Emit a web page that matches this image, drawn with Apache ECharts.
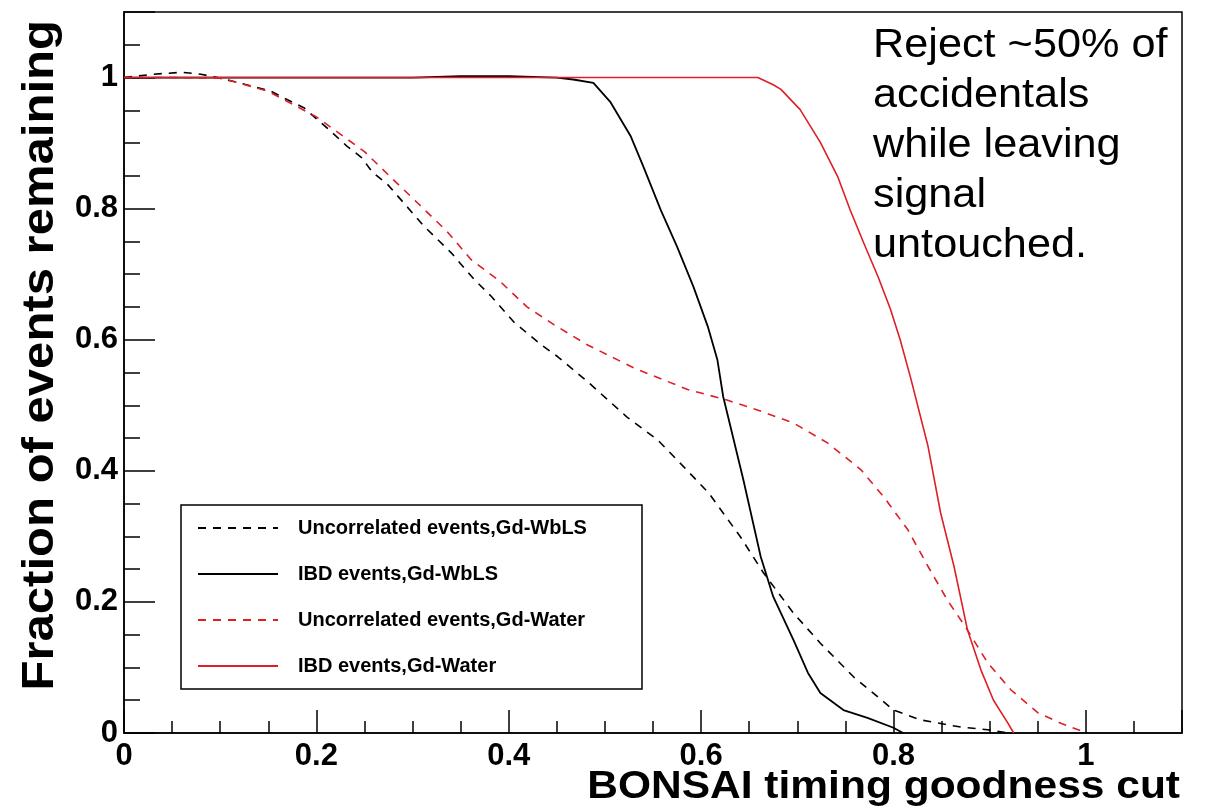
<!DOCTYPE html>
<html>
<head>
<meta charset="utf-8">
<script src="https://cdn.jsdelivr.net/npm/echarts@6/dist/echarts.min.js"></script>
<style>
html,body{margin:0;padding:0;background:#fff;}
#chart{width:1207px;height:809px;}
</style>
</head>
<body>
<div id="chart"></div>
<script>
// ---- data ----
const seriesNames = [
  'Uncorrelated events,Gd-WbLS',
  'IBD events,Gd-WbLS',
  'Uncorrelated events,Gd-Water',
  'IBD events,Gd-Water'
];

const uncorrWbLS_x = [0, 0.03, 0.06, 0.08, 0.097, 0.114, 0.153, 0.17, 0.187, 0.201, 0.215, 0.232, 0.247, 0.258, 0.274, 0.299, 0.312, 0.34, 0.364, 0.382, 0.406, 0.434, 0.451, 0.482, 0.523, 0.555, 0.582, 0.608, 0.641, 0.665, 0.696, 0.724, 0.759, 0.779, 0.8, 0.828, 0.87, 0.898, 0.92];
const uncorrWbLS_y = [1.0, 1.005, 1.008, 1.005, 1.0, 0.994, 0.979, 0.966, 0.954, 0.936, 0.918, 0.895, 0.878, 0.856, 0.837, 0.795, 0.773, 0.733, 0.692, 0.666, 0.626, 0.592, 0.574, 0.536, 0.482, 0.447, 0.406, 0.366, 0.299, 0.244, 0.183, 0.137, 0.085, 0.061, 0.035, 0.02, 0.009, 0.005, 0];

const ibdWbLS_x = [0, 0.1, 0.2, 0.3, 0.35, 0.4, 0.45, 0.467, 0.488, 0.506, 0.527, 0.54, 0.558, 0.575, 0.592, 0.607, 0.617, 0.623, 0.627, 0.644, 0.662, 0.675, 0.696, 0.711, 0.724, 0.748, 0.773, 0.8, 0.81];
const ibdWbLS_y = [1, 1, 1, 1, 1.002, 1.002, 1.0, 0.997, 0.992, 0.962, 0.91, 0.864, 0.798, 0.742, 0.681, 0.62, 0.569, 0.513, 0.489, 0.386, 0.269, 0.208, 0.142, 0.092, 0.061, 0.035, 0.023, 0.008, 0];

const uncorrWater_x = [0, 0.05, 0.1, 0.114, 0.15, 0.2, 0.25, 0.278, 0.305, 0.336, 0.361, 0.391, 0.419, 0.447, 0.482, 0.53, 0.586, 0.627, 0.66, 0.696, 0.731, 0.766, 0.79, 0.815, 0.836, 0.856, 0.877, 0.898, 0.922, 0.95, 0.974, 0.992, 1.0];
const uncorrWater_y = [1.0, 1.0, 0.999, 0.994, 0.979, 0.94, 0.887, 0.847, 0.809, 0.765, 0.722, 0.689, 0.65, 0.623, 0.592, 0.557, 0.524, 0.508, 0.492, 0.473, 0.443, 0.402, 0.36, 0.31, 0.254, 0.203, 0.157, 0.107, 0.066, 0.031, 0.015, 0.005, 0];

const ibdWater_x = [0, 0.3, 0.5, 0.6, 0.659, 0.675, 0.683, 0.703, 0.724, 0.742, 0.755, 0.769, 0.784, 0.797, 0.807, 0.818, 0.836, 0.849, 0.863, 0.877, 0.891, 0.904, 0.919, 0.925];
const ibdWater_y = [1, 1, 1, 1, 1.0, 0.989, 0.982, 0.951, 0.901, 0.849, 0.798, 0.748, 0.696, 0.646, 0.6, 0.541, 0.437, 0.336, 0.254, 0.157, 0.096, 0.05, 0.015, 0];

const xTitle = 'BONSAI timing goodness cut';
const yTitle = 'Fraction of events remaining';
const noteLines = ['Reject ~50% of', 'accidentals', 'while leaving', 'signal', 'untouched.'];

// ---- build ----
function pairs(xs, ys){ return xs.map((x,i)=>[x, ys[i]]); }
const RED = '#dd1f26';
const BLACK = '#000';
const FONT = '"Liberation Sans", Arial, Helvetica, sans-serif';

const chart = echarts.init(document.getElementById('chart'), null, {renderer:'canvas'});

const majorLabel = {
  show:true, color:'#000', fontFamily:FONT, fontWeight:'bold', fontSize:31,
  formatter: v => (v > 1.05 ? '' : String(+v.toFixed(2)))
};

const option = {
  animation:false,
  backgroundColor:'#fff',
  grid:{left:124, right:25, top:12, bottom:76, show:true, borderColor:'#000', borderWidth:1.5, backgroundColor:'transparent'},
  xAxis:[
    {type:'value', min:0, max:1.1, interval:0.2, position:'bottom',
     axisLine:{show:true, onZero:false, lineStyle:{color:'#000', width:1.5}},
     axisTick:{show:true, inside:true, length:23, lineStyle:{color:'#000', width:1.5}},
     axisLabel:Object.assign({margin:8}, majorLabel),
     splitLine:{show:false}},
    {type:'value', min:0, max:1.1, interval:0.05, position:'bottom',
     axisLine:{show:false},
     axisTick:{show:true, inside:true, length:12, lineStyle:{color:'#000', width:1.5}},
     axisLabel:{show:false}, splitLine:{show:false}}
  ],
  yAxis:[
    {type:'value', min:0, max:1.1, interval:0.2, position:'left',
     axisLine:{show:true, onZero:false, lineStyle:{color:'#000', width:1.5}},
     axisTick:{show:true, inside:true, length:31, lineStyle:{color:'#000', width:1.5}},
     axisLabel:Object.assign({margin:6}, majorLabel),
     splitLine:{show:false}},
    {type:'value', min:0, max:1.1, interval:0.05, position:'left',
     axisLine:{show:false},
     axisTick:{show:true, inside:true, length:16, lineStyle:{color:'#000', width:1.5}},
     axisLabel:{show:false}, splitLine:{show:false}}
  ],
  legend:{
    orient:'vertical', left:197, top:518, padding:0,
    itemWidth:80, itemHeight:20, itemGap:26,
    data:seriesNames,
    itemStyle:{opacity:0},
    textStyle:{color:'#000', fontFamily:FONT, fontWeight:'bold', fontSize:20, padding:[0,0,0,15]},
    z:10
  },
  graphic:[
    {type:'rect', z:5, shape:{x:181, y:505, width:461, height:184},
     style:{fill:'#fff', stroke:'#000', lineWidth:1.5}},
    {type:'text', x:1180, y:787, z:10, scaleX:1.09,
     style:{text:xTitle, fill:'#000', font:'bold 39px '+FONT, align:'right', verticalAlign:'middle'}},
    {type:'text', x:41, y:20, rotation:Math.PI/2, z:10, scaleX:1.09,
     style:{text:yTitle, fill:'#000', font:'bold 45px '+FONT, align:'right', verticalAlign:'middle'}},
    {type:'text', x:873, y:21, z:10, scaleX:1.055,
     style:{text:noteLines.join('\n'), fill:'#000', font:'41px '+FONT, lineHeight:50, align:'left', verticalAlign:'top'}}
  ],
  series:[
    {name:seriesNames[0], type:'line', xAxisIndex:0, yAxisIndex:0, symbol:'none', z:3,
     data:pairs(uncorrWbLS_x, uncorrWbLS_y),
     lineStyle:{color:BLACK, width:1.6, type:[8,7]}, itemStyle:{color:BLACK}},
    {name:seriesNames[1], type:'line', xAxisIndex:0, yAxisIndex:0, symbol:'none', z:3,
     data:pairs(ibdWbLS_x, ibdWbLS_y),
     lineStyle:{color:BLACK, width:1.8, type:'solid'}, itemStyle:{color:BLACK}},
    {name:seriesNames[2], type:'line', xAxisIndex:0, yAxisIndex:0, symbol:'none', z:3,
     data:pairs(uncorrWater_x, uncorrWater_y),
     lineStyle:{color:RED, width:1.6, type:[8,7]}, itemStyle:{color:RED}},
    {name:seriesNames[3], type:'line', xAxisIndex:0, yAxisIndex:0, symbol:'none', z:4,
     data:pairs(ibdWater_x, ibdWater_y),
     lineStyle:{color:RED, width:1.6, type:'solid'}, itemStyle:{color:RED}}
  ]
};
chart.setOption(option);
</script>
</body>
</html>
